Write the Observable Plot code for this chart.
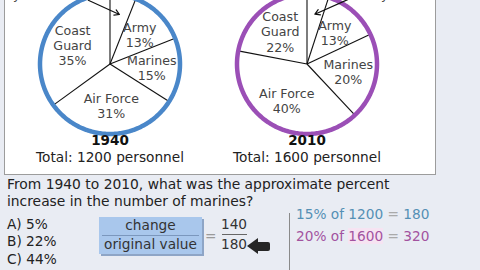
<!DOCTYPE html>
<html><head><meta charset="utf-8">
<script src="https://cdn.jsdelivr.net/npm/d3@7"></script>
<script src="https://cdn.jsdelivr.net/npm/@observablehq/plot@0.6"></script>
<style>
html,body{margin:0;padding:0;}
body{width:480px;height:270px;overflow:hidden;background:#e9ecf3;position:relative;font-family:"DejaVu Sans",Verdana,sans-serif;color:#222;}
#panel{position:absolute;left:4px;top:-3px;width:432px;height:178px;background:#fff;border:1px solid #9c9c9c;box-sizing:border-box;}
.pie{position:absolute;top:0;}
.abs{position:absolute;white-space:nowrap;}
.t{font-size:13.7px;}
</style></head><body>
<div id="panel"></div>
<div id="pie0" class="pie" style="left:0px"></div>
<div id="pie1" class="pie" style="left:196px"></div>

<div class="abs t" style="left:7px;top:176px;line-height:17px;font-size:13.85px;">From 1940 to 2010, what was the approximate percent<br>increase in the number of marines?</div>
<div id="answers" class="abs t" style="left:7px;top:215.5px;line-height:17.7px;"></div>

<div class="abs" style="left:99px;top:217px;width:103px;height:37px;background:#a9c7ec;box-shadow:2px 2px 0 #8ea5c6;">
  <div id="num" class="abs t" style="left:0;width:103px;text-align:center;top:0px;line-height:17px;color:#333;"></div>
  <div class="abs" style="left:3px;width:97px;top:18px;height:1px;background:#7b97bd;"></div>
  <div id="den" class="abs t" style="left:0;width:103px;text-align:center;top:19px;line-height:17px;color:#333;"></div>
</div>
<div class="abs t" style="left:205px;top:228px;line-height:17px;color:#9a9a9a;">=</div>
<div id="fnum" class="abs t" style="left:220px;width:28px;text-align:center;top:216px;line-height:17px;color:#333;"></div>
<div class="abs" style="left:222px;width:25px;top:234px;height:1px;background:#666;"></div>
<div id="fden" class="abs t" style="left:220px;width:28px;text-align:center;top:236px;line-height:17px;color:#333;"></div>
<div class="abs" style="left:247px;top:237.5px;width:0;height:0;border-right:11px solid #262626;border-top:8.5px solid transparent;border-bottom:8.5px solid transparent;"></div>
<div class="abs" style="left:257px;top:241.5px;width:13px;height:9px;background:#262626;border-radius:0 2px 2px 0;"></div>
<div class="abs" style="left:289px;top:213px;width:1px;height:57px;background:#8a8a8a;"></div>
<div id="calc0" class="abs t" style="left:296px;top:206px;line-height:17px;color:#5590b5;"></div>
<div id="calc1" class="abs t" style="left:296px;top:228px;line-height:17px;color:#a2539f;"></div>

<script>
// ---- data ----
const branches = ["Navy", "Army", "Marines", "Air Force", "Coast Guard"];
const branchLabels = ["Navy", "Army", "Marines", "Air Force", "Coast\nGuard"];
const years = [1940, 2010];
const totals = [1200, 1600];
const shares1940 = [6, 13, 15, 31, 35];
const shares2010 = [5, 13, 20, 40, 22];
const answerLabels = ["A) 5%", "B) 22%", "C) 44%"];
const ratioLabels = ["change", "original value"];

// ---- layout / style ----
const ringColors = ["#4a87c9", "#9b4fb6"];
const PX = 70, H = 175, CY = 63.5;
const pieWidths = [220, 284];
const pieCenters = [109.5, 110.5];
const calloutTail = [[-0.31, 0.91], [0.58, 0.92]];
const calloutText = [{anchor: "end", dx: -44, dy: -5}, {anchor: "start", dx: 9, dy: -5}];
const font = "DejaVu Sans, Verdana, sans-serif";

function drawPie(i, shares) {
  const arcs = d3.pie().sort(null).value(d => d)(shares);
  const slices = arcs.map((a, j) => ({
    label: branchLabels[j], name: branches[j], value: shares[j],
    a0: a.startAngle, mid: (a.startAngle + a.endAngle) / 2
  }));
  const ring = d3.range(0, 361, 1).map(deg => ({x: Math.sin(deg * Math.PI / 180), y: Math.cos(deg * Math.PI / 180)}));
  const navy = slices[0];
  const callout = [{
    x1: calloutTail[i][0], y1: calloutTail[i][1],
    x2: 0.72 * Math.sin(navy.mid), y2: 0.72 * Math.cos(navy.mid),
    text: `${navy.name} ${navy.value}%`
  }];
  const W = pieWidths[i], cx = pieCenters[i];
  return Plot.plot({
    width: W, height: H,
    marginLeft: cx - PX, marginRight: W - cx - PX, marginTop: 0, marginBottom: 0,
    x: {domain: [-1, 1], axis: null},
    y: {domain: [-(H - CY) / PX, CY / PX], axis: null},
    style: {background: "transparent", fontFamily: font, overflow: "visible"},
    marks: [
      Plot.link(slices, {x1: () => 0, y1: () => 0, x2: d => Math.sin(d.a0), y2: d => Math.cos(d.a0), stroke: "#111", strokeWidth: 1.1}),
      Plot.line(ring, {x: "x", y: "y", stroke: ringColors[i], strokeWidth: 4.5}),
      Plot.text(slices.slice(1), {
        x: d => 0.6 * Math.sin(d.mid), y: d => 0.6 * Math.cos(d.mid),
        text: d => `${d.label}\n${d.value}%`, fontSize: 12.6, fill: "#444", lineHeight: 1.2
      }),
      Plot.arrow(callout, {x1: "x1", y1: "y1", x2: "x2", y2: "y2", stroke: "#111", strokeWidth: 1.2, headLength: 7}),
      Plot.text(callout, {x: "x1", y: "y1", text: "text", textAnchor: calloutText[i].anchor, dx: calloutText[i].dx, dy: calloutText[i].dy, fontSize: 12.5, fill: "#444"}),
      Plot.text([years[i]], {x: () => 0, frameAnchor: "bottom", dy: -31, text: d => String(d), fontSize: 13.5, fontWeight: "bold", fill: "#111"}),
      Plot.text([totals[i]], {x: () => 0, frameAnchor: "bottom", dy: -14, text: d => `Total: ${d} personnel`, fontSize: 13.7, fill: "#222"})
    ]
  });
}

document.getElementById("pie0").appendChild(drawPie(0, shares1940));
document.getElementById("pie1").appendChild(drawPie(1, shares2010));

const m = branches.indexOf("Marines");
const marines0 = shares1940[m] / 100 * totals[0];
const marines1 = shares2010[m] / 100 * totals[1];
document.getElementById("answers").innerHTML = answerLabels.join("<br>");
document.getElementById("num").textContent = ratioLabels[0];
document.getElementById("den").textContent = ratioLabels[1];
document.getElementById("fnum").textContent = String(marines1 - marines0);
document.getElementById("fden").textContent = String(marines0);
document.getElementById("calc0").innerHTML = `${shares1940[m]}% of ${totals[0]} <span style="color:#aaa">=</span> ${marines0}`;
document.getElementById("calc1").innerHTML = `${shares2010[m]}% of <span style="background:#f6e4f2">${totals[1]}</span> <span style="color:#aaa">=</span> ${marines1}`;
</script>
</body></html>
